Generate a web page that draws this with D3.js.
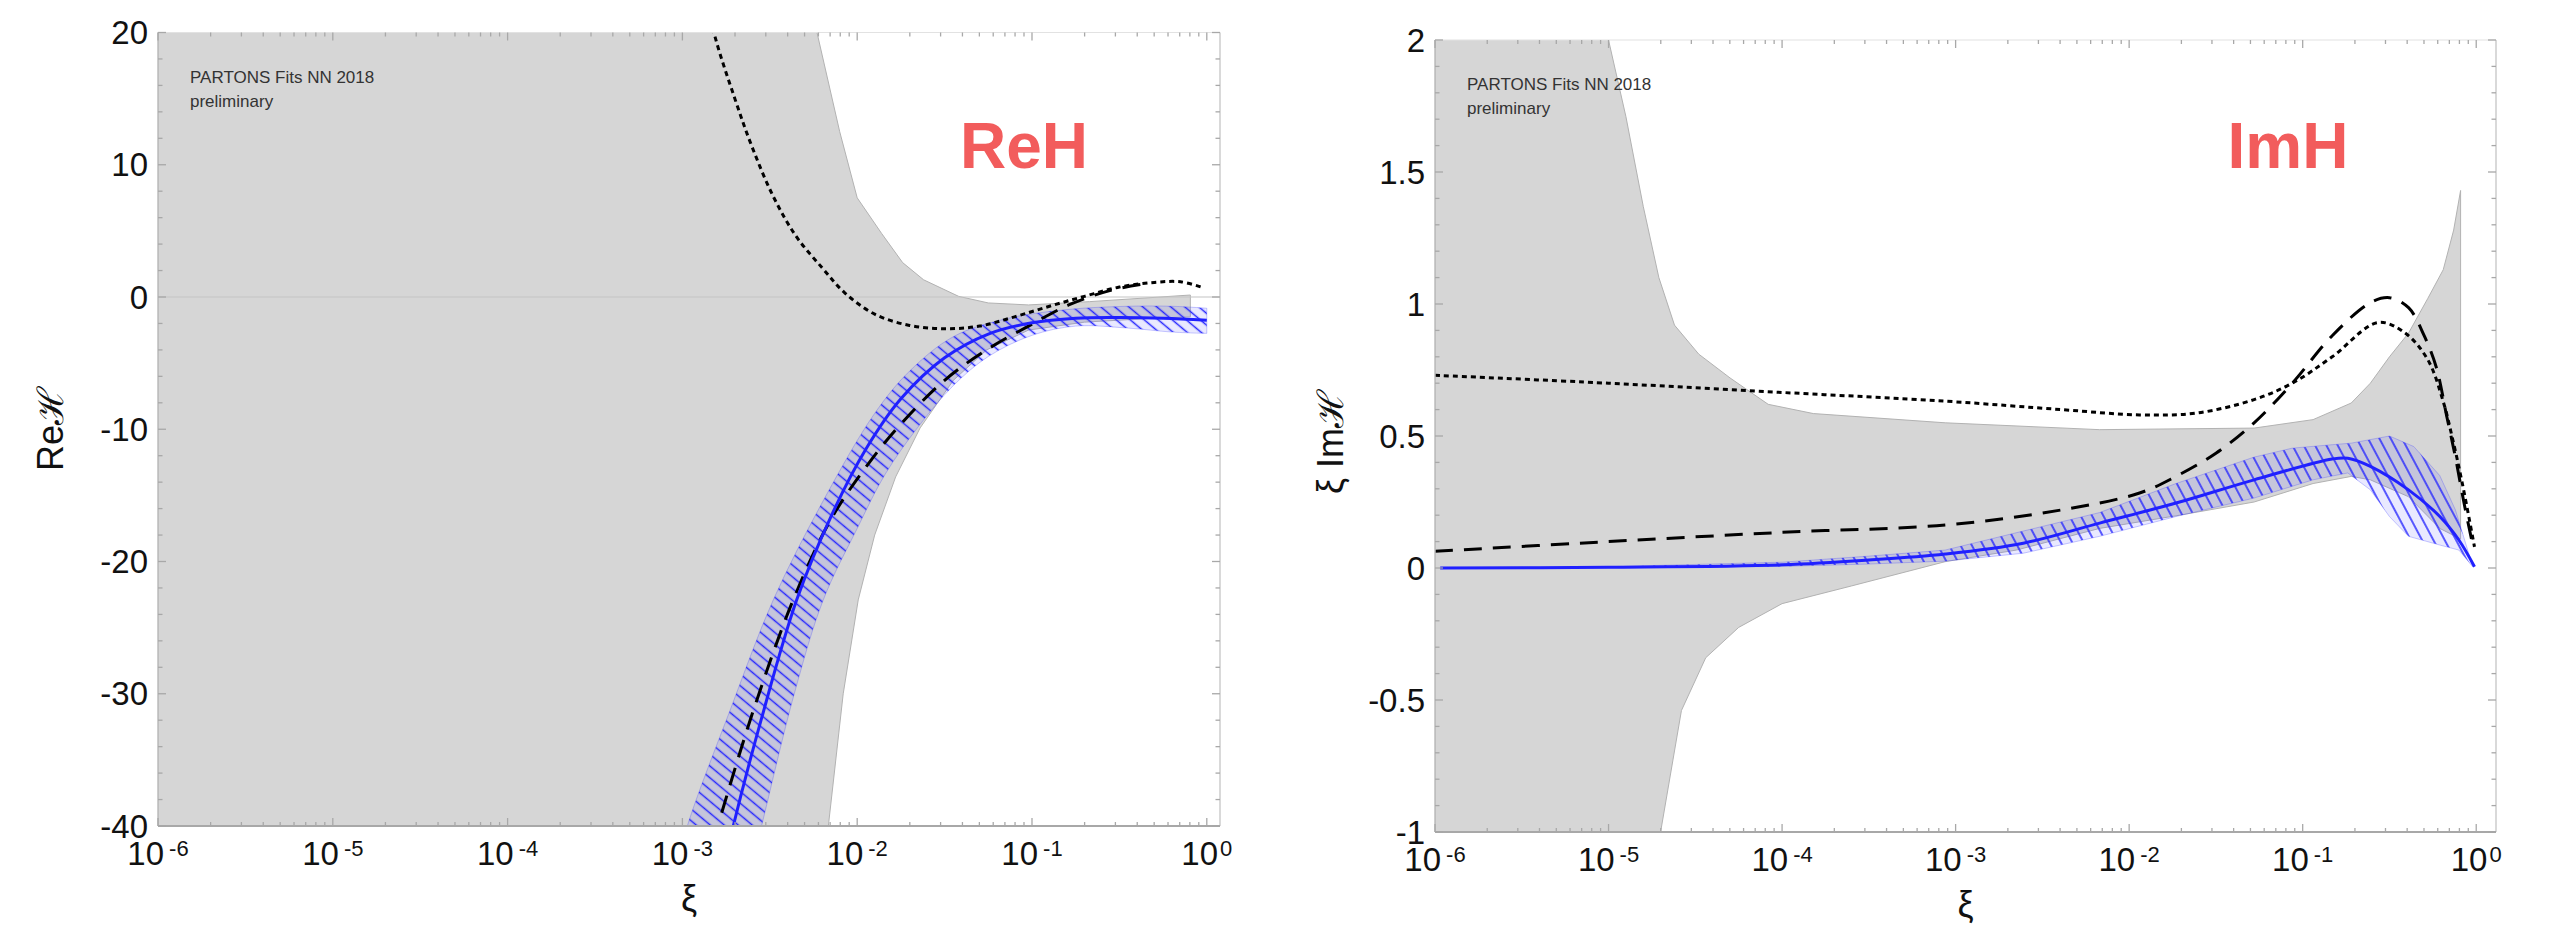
<!DOCTYPE html>
<html>
<head>
<meta charset="utf-8">
<script src="https://cdn.jsdelivr.net/npm/d3@7"></script>
<style>
  body { margin: 0; background: #fff; }
  svg { display: block; }
  text { font-family: "Liberation Sans", Arial, sans-serif; }
</style>
</head>
<body>
<svg id="chart" width="2561" height="931"></svg>
<script>
// All curves are [log10(xi), value] pairs

// ---- Re H (left panel) ----
const reGrayUpper = [[-6,30],[-2.3,30],[-2.23,20],[-2.1,12.5],[-2.0,7.5],[-1.86,4.8],[-1.74,2.6],[-1.62,1.3],[-1.42,0.05],[-1.25,-0.45],[-1.02,-0.6],[-0.67,-0.35],[-0.094,0.15]];
const reGrayLower = [[-6,-50],[-2.18,-50],[-2.165,-40],[-2.08,-30],[-1.994,-22.9],[-1.9,-18],[-1.78,-13.6],[-1.64,-9.9],[-1.45,-6.3],[-1.26,-4.0],[-1.02,-2.5],[-0.7,-1.9],[-0.3,-1.6],[-0.094,-1.5]];
const reBandUpper = [[-3.05,-44],[-2.972,-40],[-2.72,-31],[-2.48,-22.9],[-2.19,-15.3],[-1.9,-8.8],[-1.7,-5.6],[-1.45,-3.0],[-1.15,-1.65],[-0.8,-0.95],[-0.45,-0.7],[-0.2,-0.7],[0.0,-0.85]];
const reBandLower = [[-2.62,-44],[-2.547,-40],[-2.36,-30],[-2.194,-22.9],[-2.0,-17.5],[-1.84,-13.4],[-1.65,-9.8],[-1.45,-6.7],[-1.25,-4.5],[-1.0,-2.9],[-0.75,-2.2],[-0.45,-2.35],[-0.2,-2.65],[0.0,-2.75]];
const reCentral = [[-2.76,-43],[-2.709,-40],[-2.55,-32],[-2.346,-22.9],[-2.15,-16.6],[-1.95,-11.5],[-1.75,-7.7],[-1.5,-4.6],[-1.25,-2.8],[-1.0,-1.95],[-0.75,-1.6],[-0.5,-1.55],[-0.25,-1.6],[0.0,-1.75]];
const reDotted = [[-2.9,25],[-2.82,20],[-2.7,15],[-2.6,11.3],[-2.48,7.6],[-2.35,4.6],[-2.2,2.2],[-2.07,0.3],[-1.9,-1.3],[-1.7,-2.15],[-1.5,-2.4],[-1.3,-2.2],[-1.1,-1.5],[-0.9,-0.7],[-0.7,0.05],[-0.5,0.75],[-0.3,1.1],[-0.15,1.15],[-0.02,0.7]];
const reDashed = [[-2.775,-39],[-2.6,-31.5],[-2.366,-22.9],[-2.15,-16.8],[-1.93,-12.5],[-1.75,-9.6],[-1.5,-6.3],[-1.26,-4.0],[-1.02,-2.2],[-0.79,-0.6],[-0.55,0.5],[-0.35,1.0]];
const reTicks = [-40, -30, -20, -10, 0, 10, 20];

// ---- xi Im H (right panel) ----
const imGrayUpper = [[-6,2.3],[-5.02,2.3],[-5.0,2.0],[-4.9,1.71],[-4.8,1.37],[-4.71,1.10],[-4.62,0.92],[-4.48,0.81],[-4.3,0.72],[-4.08,0.62],[-3.82,0.585],[-3.06,0.55],[-2.17,0.524],[-1.28,0.53],[-0.94,0.562],[-0.72,0.625],[-0.61,0.70],[-0.5,0.80],[-0.39,0.89],[-0.28,1.02],[-0.19,1.13],[-0.13,1.28],[-0.09,1.43]];
const imGrayLower = [[-6,-1.3],[-4.72,-1.3],[-4.70,-1.0],[-4.58,-0.54],[-4.44,-0.34],[-4.25,-0.225],[-4.0,-0.135],[-3.6,-0.068],[-3.06,0.024],[-2.65,0.068],[-2.17,0.15],[-1.71,0.2],[-1.28,0.25],[-0.94,0.32],[-0.72,0.347],[-0.61,0.334],[-0.39,0.27],[-0.21,0.15],[-0.09,0.11]];
const imBandUpper = [[-5.97,0.001],[-5,0.005],[-4,0.022],[-3.5,0.045],[-3.06,0.068],[-2.61,0.14],[-2.17,0.21],[-1.73,0.32],[-1.28,0.42],[-1.06,0.454],[-0.83,0.467],[-0.72,0.473],[-0.5,0.5],[-0.36,0.46],[-0.21,0.35],[-0.12,0.22],[-0.02,0.005]];
const imBandLower = [[-5.97,-0.001],[-5,0.001],[-4,0.006],[-3.5,0.015],[-3.06,0.026],[-2.61,0.056],[-2.17,0.12],[-1.73,0.195],[-1.28,0.265],[-0.94,0.334],[-0.74,0.36],[-0.61,0.296],[-0.5,0.195],[-0.39,0.12],[-0.21,0.087],[-0.10,0.068],[-0.02,0.005]];
const imCentral = [[-5.97,0.0],[-5,0.003],[-4,0.012],[-3.5,0.03],[-3.06,0.053],[-2.61,0.094],[-2.17,0.17],[-1.73,0.246],[-1.28,0.334],[-0.83,0.413],[-0.74,0.416],[-0.61,0.385],[-0.39,0.296],[-0.21,0.195],[-0.10,0.106],[-0.01,0.005]];
const imDotted = [[-6,0.73],[-5,0.70],[-4,0.665],[-3.06,0.632],[-2.39,0.6],[-1.94,0.58],[-1.61,0.587],[-1.28,0.638],[-1.06,0.70],[-0.83,0.80],[-0.566,0.93],[-0.41,0.89],[-0.28,0.79],[-0.19,0.63],[-0.14,0.5],[-0.08,0.32],[-0.01,0.08]];
const imDashed = [[-6,0.063],[-5,0.10],[-4,0.135],[-3.06,0.163],[-2.39,0.22],[-1.94,0.284],[-1.73,0.347],[-1.5,0.435],[-1.28,0.55],[-1.06,0.70],[-0.83,0.88],[-0.61,1.005],[-0.5,1.024],[-0.39,0.986],[-0.30,0.88],[-0.23,0.76],[-0.17,0.575],[-0.12,0.42],[-0.07,0.245],[-0.02,0.087]];
const imTicks = [-1, -0.5, 0, 0.5, 1, 1.5, 2];

const decades = [-6, -5, -4, -3, -2, -1, 0];

const svg = d3.select('#chart');
const defs = svg.append('defs');

// hatch patterns for the blue bands
function hatch(id, angle, gap) {
    const p = defs.append('pattern')
        .attr('id', id)
        .attr('patternUnits', 'userSpaceOnUse')
        .attr('width', gap).attr('height', gap)
        .attr('patternTransform', `rotate(${angle})`);
    p.append('line')
        .attr('x1', gap / 2).attr('y1', -1).attr('x2', gap / 2).attr('y2', gap + 1)
        .attr('stroke', '#2626ff').attr('stroke-width', 1.5);
}
hatch('hatchRe', -50, 9);
hatch('hatchIm', -28, 10);

function drawPanel(p) {
    const g = svg.append('g');
    const x = d3.scaleLog().domain([1e-6, p.xmax]).range([p.left, p.right]);
    const y = d3.scaleLinear().domain(p.ydom).range([p.bottom, p.top]);
    const px = d => x(Math.pow(10, d[0]));
    const py = d => y(d[1]);

    defs.append('clipPath').attr('id', 'clip-' + p.id)
        .append('rect')
        .attr('x', p.left).attr('y', p.top)
        .attr('width', p.right - p.left).attr('height', p.bottom - p.top);

    const plot = g.append('g').attr('clip-path', `url(#clip-${p.id})`);

    const polygon = (up, lo, curve) => {
        const ln = d3.line().x(px).y(py).curve(curve);
        return ln(up) + ln(lo.slice().reverse()).replace(/^M/, 'L') + 'Z';
    };

    // grey band
    plot.append('path')
        .attr('d', polygon(p.grayUp, p.grayLo, d3.curveLinear))
        .attr('fill', '#d6d6d6')
        .attr('stroke', '#b2b2b2')
        .attr('stroke-width', 1);

    if (p.zeroLine) {
        plot.append('line')
            .attr('x1', p.left).attr('x2', p.right)
            .attr('y1', y(0)).attr('y2', y(0))
            .attr('stroke', '#c4c4c4').attr('stroke-width', 1.2);
    }

    // blue hatched band
    const band = polygon(p.bandUp, p.bandLo, p.bandCurve);
    plot.append('path').attr('d', band)
        .attr('fill', 'rgba(70,70,255,0.12)')
        .attr('stroke', 'rgba(70,70,255,0.3)').attr('stroke-width', 1);
    plot.append('path').attr('d', band).attr('fill', `url(#${p.hatch})`);

    const smooth = d3.line().x(px).y(py).curve(d3.curveCatmullRom.alpha(0.5));

    plot.append('path').attr('d', smooth(p.dotted))
        .attr('fill', 'none').attr('stroke', '#000')
        .attr('stroke-width', 3).attr('stroke-dasharray', '5,4');
    plot.append('path').attr('d', smooth(p.dashed))
        .attr('fill', 'none').attr('stroke', '#000')
        .attr('stroke-width', 3).attr('stroke-dasharray', '18,11');
    plot.append('path').attr('d', smooth(p.central))
        .attr('fill', 'none').attr('stroke', '#2020ff')
        .attr('stroke-width', 3);

    // frame
    g.append('line').attr('x1', p.left).attr('x2', p.right).attr('y1', p.top).attr('y2', p.top)
        .attr('stroke', '#e2e2e2').attr('stroke-width', 1.2);
    g.append('line').attr('x1', p.right).attr('x2', p.right).attr('y1', p.top).attr('y2', p.bottom)
        .attr('stroke', '#cdcdcd').attr('stroke-width', 1.5);
    g.append('line').attr('x1', p.left).attr('x2', p.left).attr('y1', p.top).attr('y2', p.bottom)
        .attr('stroke', '#bdbdbd').attr('stroke-width', 1.5);
    g.append('line').attr('x1', p.left).attr('x2', p.right).attr('y1', p.bottom).attr('y2', p.bottom)
        .attr('stroke', '#a8a8a8').attr('stroke-width', 1.8);

    // x ticks (log, inward, top and bottom)
    const ticks = g.append('g').attr('stroke', '#a8a8a8').attr('stroke-width', 1.3);
    decades.forEach(k => {
        const xv = x(Math.pow(10, k));
        ticks.append('line').attr('x1', xv).attr('x2', xv).attr('y1', p.bottom).attr('y2', p.bottom - 8);
        ticks.append('line').attr('x1', xv).attr('x2', xv).attr('y1', p.top).attr('y2', p.top + 8);
        if (k < 0) {
            d3.range(2, 10).forEach(m => {
                const xm = x(m * Math.pow(10, k));
                ticks.append('line').attr('x1', xm).attr('x2', xm).attr('y1', p.bottom).attr('y2', p.bottom - 4);
                ticks.append('line').attr('x1', xm).attr('x2', xm).attr('y1', p.top).attr('y2', p.top + 4);
            });
        }
    });
    // y ticks
    d3.range(p.ydom[0], p.ydom[1] + p.minorStep / 2, p.minorStep).forEach(v => {
        const yv = y(v);
        const major = p.yTicks.some(t => Math.abs(t - v) < 1e-6);
        const len = major ? 8 : 4.5;
        ticks.append('line').attr('x1', p.left).attr('x2', p.left + len).attr('y1', yv).attr('y2', yv);
        ticks.append('line').attr('x1', p.right).attr('x2', p.right - len).attr('y1', yv).attr('y2', yv);
    });

    // tick labels
    g.selectAll('.ylab').data(p.yTicks).join('text')
        .attr('x', p.left - 10).attr('y', d => y(d))
        .attr('text-anchor', 'end').attr('dominant-baseline', 'central')
        .attr('font-size', 33).attr('fill', '#111')
        .text(d => String(d));

    const xl = g.selectAll('.xlab').data(decades).join('text')
        .attr('x', d => x(Math.pow(10, d))).attr('y', p.bottom + 39)
        .attr('text-anchor', 'middle').attr('font-size', 33).attr('fill', '#111');
    xl.append('tspan').text('10');
    xl.append('tspan').attr('dx', d => d === 0 ? 2 : 5).attr('dy', -9).attr('font-size', 22)
        .text(d => d === 0 ? '0' : '-' + Math.abs(d));

    // axis titles
    g.append('text')
        .attr('x', (p.left + p.right) / 2).attr('y', p.bottom + 85)
        .attr('text-anchor', 'middle').attr('font-size', 36).attr('fill', '#111')
        .text('ξ');
    g.append('text')
        .attr('transform', `translate(${p.ytitleX},${p.ytitleY}) rotate(-90)`)
        .attr('text-anchor', 'middle').attr('font-size', 36).attr('fill', '#111')
        .text(p.ytitle);

    // annotations
    g.append('text').attr('x', p.left + 32).attr('y', p.top + 50)
        .attr('font-size', 17).attr('fill', '#333').text('PARTONS Fits NN 2018');
    g.append('text').attr('x', p.left + 32).attr('y', p.top + 74)
        .attr('font-size', 17).attr('fill', '#333').text('preliminary');
    g.append('text').attr('x', p.tagX).attr('y', 168)
        .attr('text-anchor', 'middle').attr('font-size', 64).attr('font-weight', 'bold')
        .attr('fill', '#f25c5c').text(p.tag);
}

drawPanel({
    id: 're', left: 158, right: 1220, top: 32.5, bottom: 826, xmax: 1.19,
    ydom: [-40, 20], yTicks: reTicks, minorStep: 2, zeroLine: true,
    grayUp: reGrayUpper, grayLo: reGrayLower,
    bandUp: reBandUpper, bandLo: reBandLower, bandCurve: d3.curveCatmullRom.alpha(0.5), hatch: 'hatchRe',
    central: reCentral, dotted: reDotted, dashed: reDashed,
    ytitle: 'Reℋ', ytitleX: 63, ytitleY: 429, tag: 'ReH', tagX: 1024
});

drawPanel({
    id: 'im', left: 1435, right: 2496, top: 40, bottom: 832, xmax: 1.3,
    ydom: [-1, 2], yTicks: imTicks, minorStep: 0.1, zeroLine: false,
    grayUp: imGrayUpper, grayLo: imGrayLower,
    bandUp: imBandUpper, bandLo: imBandLower, bandCurve: d3.curveLinear, hatch: 'hatchIm',
    central: imCentral, dotted: imDotted, dashed: imDashed,
    ytitle: 'ξ Imℋ', ytitleX: 1343, ytitleY: 442, tag: 'ImH', tagX: 2288
});
</script>
</body>
</html>
